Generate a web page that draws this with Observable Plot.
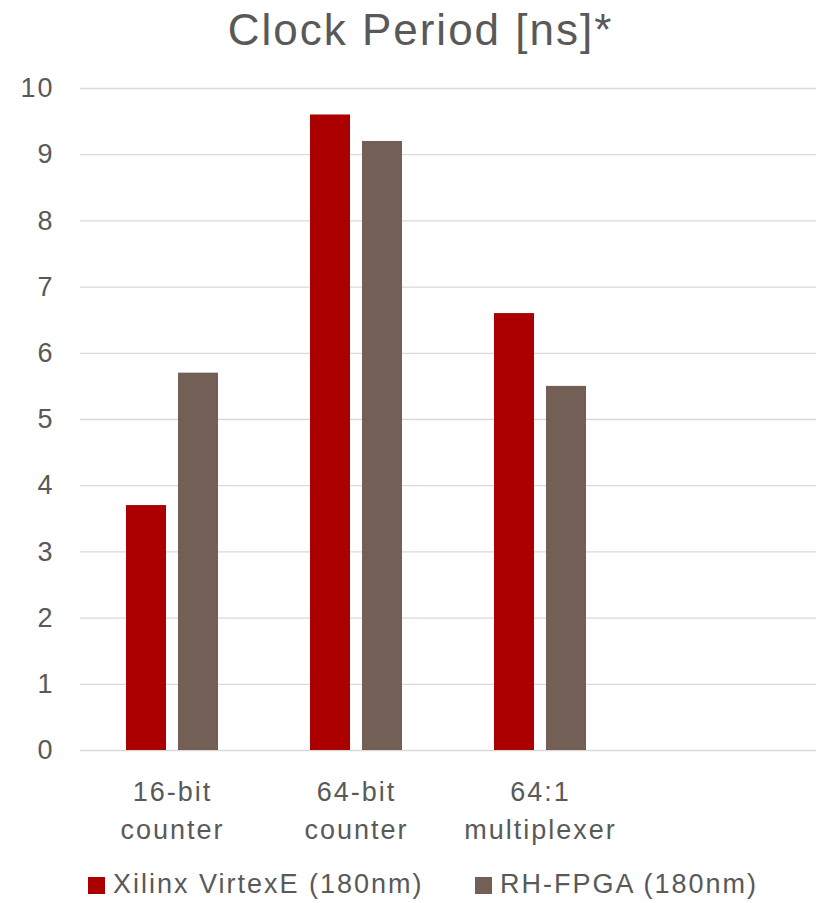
<!DOCTYPE html>
<html>
<head>
<meta charset="utf-8">
<script src="https://cdn.jsdelivr.net/npm/d3@7"></script>
<script src="https://cdn.jsdelivr.net/npm/@observablehq/plot@0.6"></script>
<style>
  html, body { margin: 0; padding: 0; background: #fff; }
  body { width: 821px; height: 903px; overflow: hidden; font-family: "Liberation Sans", Arial, sans-serif; color: #595959; }
  #title { height: 60px; line-height: 60px; font-size: 44px; letter-spacing: 2px; text-align: center; padding-left: 20px; white-space: nowrap; }
  #chart { height: 800px; }
  #legend { position: relative; height: 43px; font-size: 27px; letter-spacing: 2px; }
  .item { position: absolute; top: 3px; line-height: 43px; white-space: nowrap; }
  .sw { display: inline-block; width: 17px; height: 17px; margin-right: 8px; vertical-align: -1px; }
</style>
</head>
<body>
<div id="title">Clock Period [ns]*</div>
<div id="chart"></div>
<div id="legend"></div>
<script>
const categories = ["16-bit counter", "64-bit counter", "64:1 multiplexer", "(empty)"];
const tickLabels = ["16-bit\ncounter", "64-bit\ncounter", "64:1\nmultiplexer", ""];
const series = ["Xilinx VirtexE (180nm)", "RH-FPGA (180nm)"];
const xilinxValues = [3.7, 9.6, 6.6];
const rhfpgaValues = [5.7, 9.2, 5.5];
const seriesColors = ["#ac0000", "#735f55"];
const yTicks = [0, 1, 2, 3, 4, 5, 6, 7, 8, 9, 10];

const valuesBySeries = [xilinxValues, rhfpgaValues];
const data = [];
series.forEach((s, si) => {
  valuesBySeries[si].forEach((v, ci) => data.push({category: categories[ci], series: s, value: v}));
});
const gridRows = categories.flatMap(c => yTicks.map(t => ({category: c, tick: t})));
const labelOf = new Map(categories.map((c, i) => [c, tickLabels[i]]));

const chart = Plot.plot({
  width: 821,
  height: 800,
  marginLeft: 79,
  marginRight: 4,
  marginTop: 28,
  marginBottom: 110,
  style: {fontFamily: '"Liberation Sans", Arial, sans-serif', color: "#595959", background: "#fff", letterSpacing: "2px", overflow: "visible"},
  fx: {domain: categories, paddingInner: 0, paddingOuter: 0, label: null},
  x: {domain: series, paddingInner: 0.226, paddingOuter: 0.854, axis: null},
  y: {domain: [0, 10], label: null},
  color: {domain: series, range: seriesColors},
  marks: [
    Plot.ruleY(gridRows, {fx: "category", y: "tick", stroke: "#d9d9d9", strokeWidth: 1.3}),
    Plot.axisY(yTicks, {tickSize: 0, tickPadding: 26, fontSize: 27, fill: "#595959", label: null, tickFormat: d3.format("d")}),
    Plot.barY(data, {fx: "category", x: "series", y: "value", fill: "series"}),
    Plot.axisFx({anchor: "bottom", tickSize: 0, tickPadding: 23, fontSize: 27, lineHeight: 1.41, fill: "#595959", label: null, tickFormat: d => labelOf.get(d)})
  ]
});
document.getElementById("chart").appendChild(chart);

const legend = document.getElementById("legend");
const legendLeft = [88, 475];
series.forEach((s, i) => {
  const item = document.createElement("div");
  item.className = "item";
  item.style.left = legendLeft[i] + "px";
  const sw = document.createElement("span");
  sw.className = "sw";
  sw.style.background = seriesColors[i];
  item.appendChild(sw);
  item.appendChild(document.createTextNode(s));
  legend.appendChild(item);
});
</script>
</body>
</html>
